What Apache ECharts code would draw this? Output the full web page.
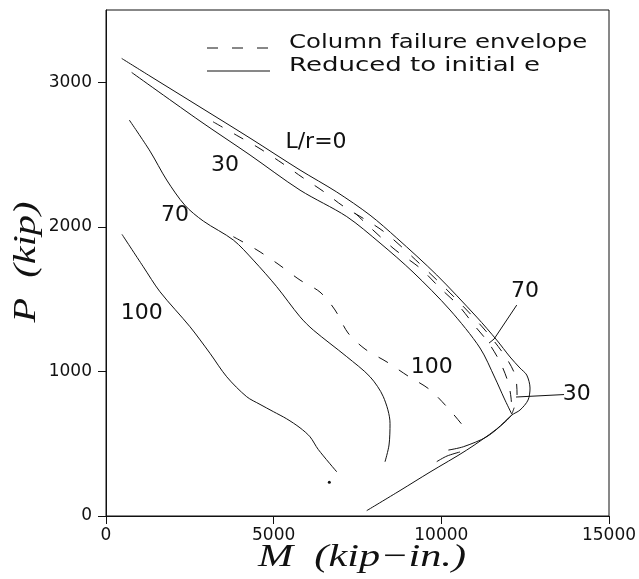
<!DOCTYPE html>
<html>
<head>
<meta charset="utf-8">
<script src="https://cdn.jsdelivr.net/npm/echarts@6/dist/echarts.min.js"></script>
<style>
  html, body { margin: 0; padding: 0; background: #fff; }
  #chart { width: 639px; height: 579px; }
</style>
</head>
<body>
<div id="chart"></div>
<script>
// Axis ticks (M in kip-in., P in kip)
const momentTicks = [0, 5000, 10000, 15000];
const loadTicks = [0, 1000, 2000, 3000];

// Solid curves: loads reduced to the initial eccentricity, [M, P]
// L/r = 0 is the section interaction diagram, including the tension branch
const reducedL0 = [
  [468, 3165], [1312, 3043], [2803, 2829], [4295, 2614], [5786, 2393],
  [6880, 2241], [7874, 2081], [8670, 1923], [9863, 1667], [11056, 1376],
  [11652, 1217], [12049, 1100], [12347, 1023], [12547, 975], [12645, 885],
  [12586, 802], [12347, 733], [12100, 698], [11652, 602], [10757, 456],
  [9663, 304], [8768, 176], [7775, 37]
];
const reducedL30 = [
  [766, 3068], [2803, 2732], [4295, 2497], [5786, 2254], [7179, 2071],
  [8172, 1888], [9156, 1687], [10259, 1425], [11154, 1162], [11601, 954],
  [11870, 816], [12100, 705]
];
const reducedL70 = [
  [694, 2739], [1312, 2524], [1810, 2324], [2350, 2150], [2902, 2040],
  [3797, 1909], [4393, 1770], [5091, 1586], [5786, 1378], [6183, 1286],
  [7179, 1102], [7874, 963], [8270, 825], [8470, 641], [8440, 491], [8320, 375]
];
const reducedL100 = [
  [477, 1948], [1112, 1724], [1610, 1551], [2505, 1309], [3102, 1125],
  [3600, 963], [4196, 825], [4593, 772], [4990, 722], [5389, 672],
  [5786, 610], [6084, 548], [6330, 460], [6880, 306]
];
// Short solid traces running into the tension branch
const tensionTraceA = [[10209, 456], [10656, 479], [11354, 548], [11900, 650], [12100, 698]];
const tensionTraceB = [[9863, 376], [10170, 415], [10558, 443]];
const strayPoint = [[6660, 233]];

// Dashed curves: column failure envelopes, [M, P]
const envelopeL30 = [
  [3191, 2727], [3937, 2628], [4563, 2545], [5249, 2441], [5846, 2344],
  [6472, 2247], [7068, 2144], [8261, 1971], [9365, 1743], [10409, 1508],
  [11303, 1286], [11900, 1106], [12198, 975], [12258, 837], [12168, 747],
  [12100, 705]
];
const envelopeL70 = [
  [7426, 2095], [8560, 1853], [9365, 1715], [9961, 1577], [10528, 1452],
  [10975, 1321], [11393, 1203], [11751, 1065], [11989, 927], [12079, 816],
  [12100, 712]
];
const envelopeL100 = [
  [3797, 1932], [4503, 1840], [5130, 1743], [5786, 1632], [6382, 1549],
  [6830, 1425], [7218, 1266], [7724, 1155], [8380, 1065], [9007, 968],
  [9633, 878], [10170, 754], [10677, 615], [10766, 581]
];

// Curve labels [M, P, text] and their leader lines
const curveLabels = [
  [6263, 2586, 'L/r=0'],
  [3549, 2427, '30'],
  [2058, 2082, '70'],
  [1065, 1402, '100'],
  [9714, 1027, '100'],
  [12496, 1551, '70'],
  [14038, 844, '30']
];
const leader70 = [[12249, 1459], [11572, 1224], [11422, 1196]];
const leader30 = [[12228, 823], [13659, 840]];

const INK = '#111';
const chart = echarts.init(document.getElementById('chart'), null, { renderer: 'canvas' });

function curve(name, data, dashed) {
  return {
    type: 'line', name: name, data: data,
    showSymbol: false, symbol: 'none', smooth: 0.3, silent: true,
    lineStyle: { color: INK, width: 1, type: dashed ? [11, 13] : 'solid' },
    animation: false, z: 3
  };
}
function straight(data) {
  return {
    type: 'line', data: data, showSymbol: false, symbol: 'none', smooth: false,
    silent: true, lineStyle: { color: INK, width: 1 }, animation: false, z: 3
  };
}

const option = {
  backgroundColor: '#fff',
  animation: false,
  grid: {
    left: 106, right: 30, top: 10, bottom: 63,
    containLabel: false, outerBoundsMode: 'none',
    show: true, borderColor: INK, borderWidth: 1, backgroundColor: 'transparent'
  },
  xAxis: {
    type: 'value', min: momentTicks[0], max: momentTicks[momentTicks.length - 1], interval: 5000,
    axisLine: { show: true, onZero: false, lineStyle: { color: INK, width: 1 } },
    axisTick: { show: true, inside: false, length: 8, lineStyle: { color: INK } },
    axisLabel: {
      show: true, margin: 11, color: INK,
      fontFamily: 'DejaVu Sans', fontSize: 17,
      formatter: v => String(v)
    },
    splitLine: { show: false }
  },
  yAxis: {
    type: 'value', min: 0, max: 3500, interval: 1000,
    axisLine: { show: true, onZero: false, lineStyle: { color: INK, width: 1 } },
    axisTick: { show: true, inside: false, length: 8, lineStyle: { color: INK }, customValues: loadTicks },
    axisLabel: {
      show: true, margin: 14, color: INK,
      fontFamily: 'DejaVu Sans', fontSize: 17, customValues: loadTicks,
      formatter: v => String(v)
    },
    splitLine: { show: false }
  },
  series: [
    curve('Reduced to initial e', reducedL0, false),
    curve('Reduced to initial e', reducedL30, false),
    curve('Reduced to initial e', reducedL70, false),
    curve('Reduced to initial e', reducedL100, false),
    curve('Reduced to initial e', tensionTraceA, false),
    curve('Reduced to initial e', tensionTraceB, false),
    curve('Column failure envelope', envelopeL30, true),
    curve('Column failure envelope', envelopeL70, true),
    curve('Column failure envelope', envelopeL100, true),
    straight(leader70),
    straight(leader30),
    {
      type: 'scatter', data: strayPoint, symbolSize: 3, silent: true,
      itemStyle: { color: INK, opacity: 1 }, animation: false
    },
    {
      type: 'scatter', data: curveLabels, symbolSize: 0, silent: true,
      itemStyle: { color: INK, opacity: 1 }, animation: false, z: 5,
      encode: { x: 0, y: 1 },
      label: {
        show: true, position: 'inside', color: INK, opacity: 1,
        fontFamily: 'DejaVu Sans', fontSize: 22,
        formatter: p => p.value[2]
      }
    }
  ],
  graphic: [
    // legend
    { type: 'line', shape: { x1: 207, y1: 48, x2: 269, y2: 48 },
      style: { stroke: INK, lineWidth: 1, lineDash: [11, 14] }, silent: true },
    { type: 'line', shape: { x1: 207, y1: 71, x2: 270, y2: 71 },
      style: { stroke: INK, lineWidth: 1 }, silent: true },
    { type: 'text', x: 289, y: 42.5, scaleX: 1.22, silent: true,
      style: { text: 'Column failure envelope', font: '20px "DejaVu Sans"', fill: INK,
               textAlign: 'left', textVerticalAlign: 'middle' } },
    { type: 'text', x: 289, y: 66, scaleX: 1.3, silent: true,
      style: { text: 'Reduced to initial e', font: '20px "DejaVu Sans"', fill: INK,
               textAlign: 'left', textVerticalAlign: 'middle' } },
    // axis titles
    { type: 'text', x: 362, y: 558, scaleX: 1.32, silent: true,
      style: { text: 'M  (kip\u2212in.)', font: 'italic 32px "Liberation Serif"', fill: INK,
               textAlign: 'center', textVerticalAlign: 'middle' } },
    { type: 'text', x: 27, y: 262, rotation: Math.PI / 2, scaleX: 1.26, silent: true,
      style: { text: 'P  (kip)', font: 'italic 32px "Liberation Serif"', fill: INK,
               textAlign: 'center', textVerticalAlign: 'middle' } }
  ]
};

chart.setOption(option);
</script>
</body>
</html>
